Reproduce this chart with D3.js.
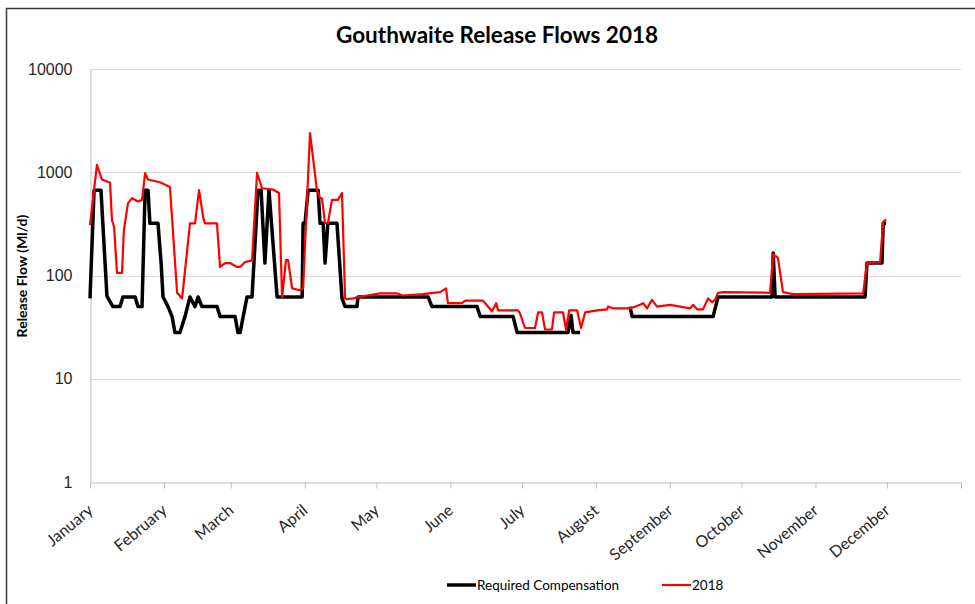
<!DOCTYPE html>
<html>
<head>
<meta charset="utf-8">
<script src="https://cdn.jsdelivr.net/npm/d3@7"></script>
<style>
  body { margin: 0; background: #fff; }
  svg { display: block; font-family: Lato, "Open Sans", sans-serif; }
  .tick-label { font-size: 16px; fill: #262626; }
  .month-label { font-size: 16px; fill: #262626; }
</style>
</head>
<body>
<div id="chart"></div>
<script>
// month labels and first day of each month (day of year, 2018)
var monthNames = ['January','February','March','April','May','June','July',
                  'August','September','October','November','December'];
var monthStarts = [0, 31, 59, 90, 120, 151, 181, 212, 243, 273, 304, 334, 365];
var yTicks = [1, 10, 100, 1000, 10000];

// Required Compensation (Ml/d) - breakpoints, null = gap
var compDays = [0, 1.7, 4.6, 7.1, 9.6, 12.6, 13.8, 18.9, 20.1, 21.8, 23.1, 24.3, 25.1, 28.5,
                29.8, 30.6, 32.7, 34.4, 35.6, 37.7, 39.8, 41.9, 44, 45.3, 46.9, 53.2, 54.5,
                60.8, 62, 62.9, 65.8, 67.9, 70.4, 71.7, 73.3, 75, 78.4, 88.9, 89.3, 90.1,
                91.4, 95.6, 96.4, 97.7, 98.5, 99.7, 103.5, 105.6, 106.9, 111.9, 112.3,
                141.7, 143.3, 162.2, 163.5, 177.3, 179, 200.3, 201.6, 202.4, 205.4,
                215, 226.3, 227.2, 261.1, 263.2, 285.8, 286.3, 287.1, 324.8, 325.6,
                331.9, 332.4, 333.6];
var compFlows = [60, 670, 670, 63, 50, 50, 62, 62, 50, 50, 670, 670, 320, 320,
                 132, 62, 50, 40, 28, 28, 40, 62, 50, 62, 50, 50, 40,
                 40, 28, 28, 62, 62, 670, 670, 132, 670, 62, 62, 320, 320,
                 670, 670, 320, 320, 132, 320, 320, 60, 50, 50, 62,
                 62, 50, 50, 40, 40, 28, 28, 41, 28, 28,
                 null, 50, 40, 40, 62, 62, 165, 62, 62, 132,
                 132, 320, 320];

// 2018 release flow (Ml/d)
var flowDays = [0, 2.9, 5, 8.4, 9.2, 10.1, 11.3, 13.4, 14.2, 15.9, 17.6, 20.1, 21.8, 23.1,
                24.3, 29.3, 33.5, 36.5, 38.6, 41.9, 44, 45.7, 47.4, 48.2, 53.2, 54.5, 56.6,
                58.7, 61.6, 62.9, 65, 67.9, 70, 72.1, 76.7, 79.2, 80.5, 82.1, 83, 84.7, 88,
                89.3, 92.2, 95.1, 96.4, 97.2, 98.5, 99.7, 101.4, 103.9, 105.6, 106.9, 107.7,
                110.2, 116.1, 121.5, 128.7, 131.2, 139.6, 143.8, 146.7, 149.2, 150, 155.9,
                157.2, 164.7, 168.5, 170.2, 171, 179.4, 180.2, 182.3, 186.5, 187.8, 189.4,
                190.7, 193.6, 194.5, 198.2, 199.5, 200.8, 204.1, 205.8, 207.5, 212.5, 216.7,
                217.1, 219.2, 226.3, 230.5, 231.8, 233.4, 235.5, 237.6, 243.1, 251.5, 252.7,
                254.4, 256.9, 259, 260.7, 261.9, 263.2, 265.3, 285, 286.3, 288.3, 290.4,
                294.6, 324, 325.6, 331.1, 332.4, 333.6];
var flowValues = [308, 1180, 850, 790, 344, 295, 106, 106, 275, 500, 560, 520, 540, 980,
                  850, 800, 720, 68, 60, 320, 320, 670, 370, 320, 320, 121, 132,
                  132, 121, 121, 135, 140, 984, 700, 680, 630, 61, 141, 141, 75, 72,
                  75, 2400, 670, 560, 560, 322, 322, 540, 540, 630, 60, 59,
                  60, 64, 67, 67, 64, 66, 68, 69, 75, 54, 54,
                  57, 57, 45, 54, 46, 46, 43, 31, 31, 44, 44,
                  30, 30, 44, 44, 30, 46, 46, 31, 44, 46, 47,
                  50, 48, 48, 52, 54, 48, 58, 50, 52, 48, 52,
                  47, 47, 60, 55, 58, 68, 69, 68, 161, 148, 69,
                  66, 67, 132, 135, 330, 350];

var W = 975, H = 604;
var plot = {left: 90, right: 961, top: 69, bottom: 482};

var svg = d3.select('#chart').append('svg')
    .attr('width', W)
    .attr('height', H);

// outer chart frame (only top and left edges show)
svg.append('path')
    .attr('d', 'M6.5,' + H + 'V8.5H' + W)
    .style('fill', 'none')
    .style('stroke', '#3a3a3a')
    .style('stroke-width', 1.5);

var x = d3.scaleLinear().domain([0, 365]).range([plot.left, plot.right]);
var y = d3.scaleLog().domain([1, 10000]).range([plot.bottom, plot.top]);

// gridlines
svg.append('g')
    .selectAll('line')
    .data(yTicks.slice(1))
    .join('line')
    .attr('x1', plot.left)
    .attr('x2', plot.right)
    .attr('y1', d => Math.round(y(d)) + 0.5)
    .attr('y2', d => Math.round(y(d)) + 0.5)
    .style('stroke', '#d9d9d9')
    .style('stroke-width', 1);

// y axis
var yAxis = d3.axisLeft(y).tickValues(yTicks).tickFormat(d3.format('d')).tickSize(0).tickPadding(18);
var gy = svg.append('g').attr('transform', 'translate(' + (plot.left + 0.5) + ',0)').call(yAxis);
gy.select('.domain').style('stroke', '#bfbfbf');
gy.selectAll('text').attr('class', 'tick-label').style('font-family', null).style('font-size', null);

// x axis
var xAxis = d3.axisBottom(x).tickValues(monthStarts).tickFormat('').tickSize(6).tickSizeOuter(0);
var gx = svg.append('g').attr('transform', 'translate(0,' + (plot.bottom + 0.5) + ')').call(xAxis);
gx.select('.domain').style('stroke', '#bfbfbf');
gx.selectAll('.tick line').style('stroke', '#bfbfbf');

svg.append('g')
    .selectAll('text')
    .data(monthNames)
    .join('text')
    .attr('class', 'month-label')
    .attr('text-anchor', 'end')
    .attr('transform', (d, i) => 'translate(' + (x(monthStarts[i]) + 4) + ',' + (plot.bottom + 30) + ') rotate(-40)')
    .text(d => d);

// lines
var line = d3.line()
    .defined(d => d[1] != null)
    .x(d => x(d[0]))
    .y(d => y(d[1]));

var compData = compDays.map((d, i) => [d, compFlows[i]]);
var flowData = flowDays.map((d, i) => [d, flowValues[i]]);

svg.append('path')
    .attr('d', line(compData))
    .style('fill', 'none')
    .style('stroke', '#000')
    .style('stroke-width', 3.5)
    .style('stroke-linejoin', 'round');

svg.append('path')
    .attr('d', line(flowData))
    .style('fill', 'none')
    .style('stroke', '#ff0000')
    .style('stroke-width', 2.2)
    .style('stroke-linejoin', 'round');

// title
svg.append('text')
    .attr('x', 497)
    .attr('y', 43)
    .attr('text-anchor', 'middle')
    .style('font-size', '22.5px')
    .style('font-weight', 'bold')
    .style('fill', '#000')
    .text('Gouthwaite Release Flows 2018');

// y label
svg.append('text')
    .attr('transform', 'translate(27,276) rotate(-90)')
    .attr('text-anchor', 'middle')
    .style('font-size', '14px')
    .style('font-weight', 'bold')
    .style('fill', '#000')
    .text('Release Flow (Ml/d)');

// legend
var legendItems = [
    {label: 'Required Compensation', color: '#000', width: 3.5, x: 447},
    {label: '2018', color: '#ff0000', width: 2.2, x: 662}
];
var lg = svg.append('g').selectAll('g').data(legendItems).join('g')
    .attr('transform', d => 'translate(' + d.x + ',585)');
lg.append('line')
    .attr('x1', 0).attr('x2', 29)
    .style('stroke', d => d.color)
    .style('stroke-width', d => d.width);
lg.append('text')
    .attr('x', 30)
    .attr('dy', '0.35em')
    .style('font-size', '13.5px')
    .style('fill', '#000')
    .text(d => d.label);
</script>
</body>
</html>
